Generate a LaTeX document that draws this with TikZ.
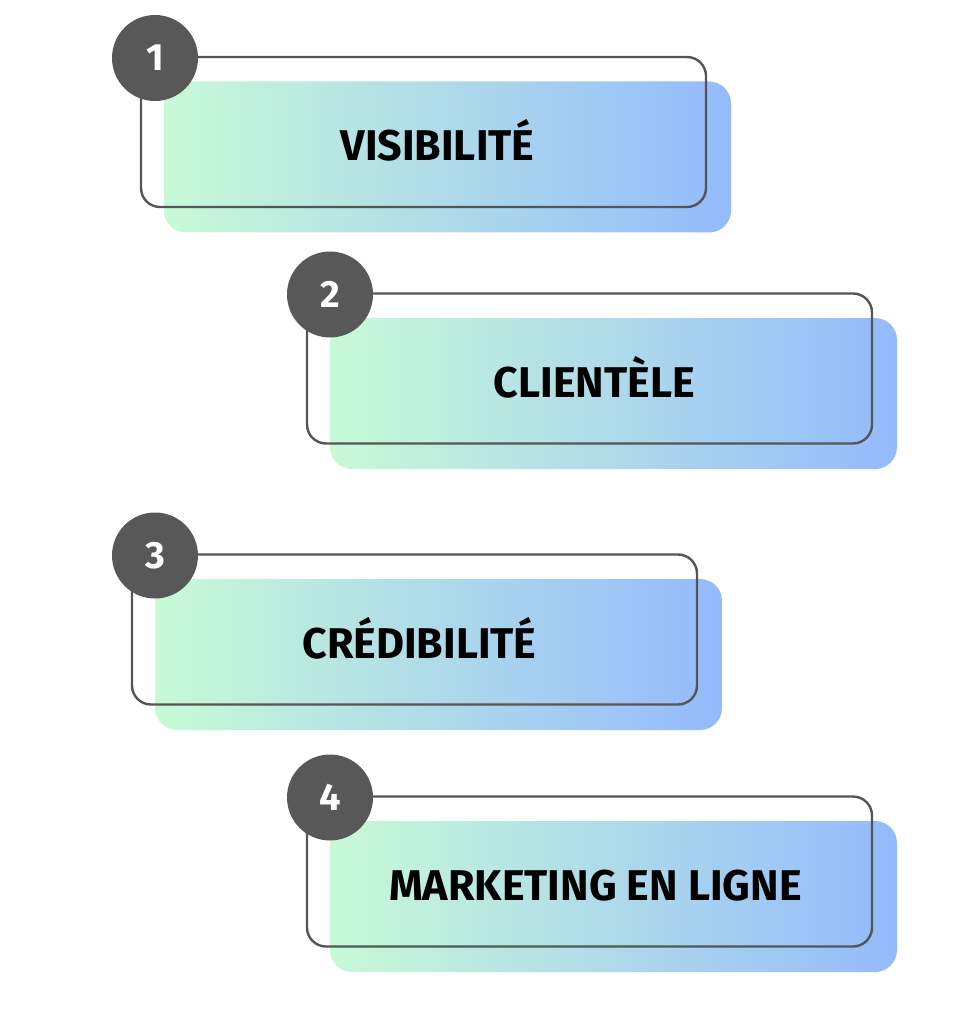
\documentclass[tikz,border=0pt]{standalone}
\usepackage{fontspec}
\setmainfont{Fira Sans}
\usetikzlibrary{positioning}

\definecolor{bandgreen}{RGB}{200,250,215}
\definecolor{bandblue}{RGB}{148,186,252}
\definecolor{badgegray}{RGB}{88,88,88}
\definecolor{framegray}{RGB}{85,85,85}

\begin{document}
\begin{tikzpicture}[x=1pt,y=-1pt,
  stepband/.style={minimum width=567pt,minimum height=151pt,inner sep=0pt,
    rounded corners=22pt,left color=bandgreen,right color=bandblue,draw=none},
  stepframe/.style={minimum width=565pt,minimum height=150pt,inner sep=0pt,
    rounded corners=19pt,draw=framegray,line width=2.4pt},
  stepbadge/.style={circle,fill=badgegray,minimum size=86pt,inner sep=0pt,
    text=white,font=\fontsize{38}{38}\selectfont\bfseries},
  steptext/.style={anchor=base,font=\fontsize{43}{43}\selectfont\bfseries}]
% page frame
\useasboundingbox (0,0) rectangle (962,1024);
% four steps: number / frame centre / badge x / label shift / label
\foreach \n/\fx/\fy/\bx/\tx/\txt in {1/423.5/132/155/14/VISIBILITÉ,
                                     2/589.5/368.5/330/5/CLIENTÈLE,
                                     3/414.5/629.5/155/5/CRÉDIBILITÉ,
                                     4/589.5/871.5/330/6/MARKETING EN LIGNE}{
  % shaded band behind, offset down-right
  \node[stepband] (band\n) at (\fx+24,\fy+25) {};
  % outlined frame on top
  \node[stepframe] (frame\n) at (\fx,\fy) {};
  \node[steptext] (label\n) at ([shift={(\tx,29)}]frame\n.center) {\txt};
  % number badge on the top-left corner
  \node[stepbadge] (badge\n) at (\bx,\fy-74) {\n};
}
\end{tikzpicture}
\end{document}
